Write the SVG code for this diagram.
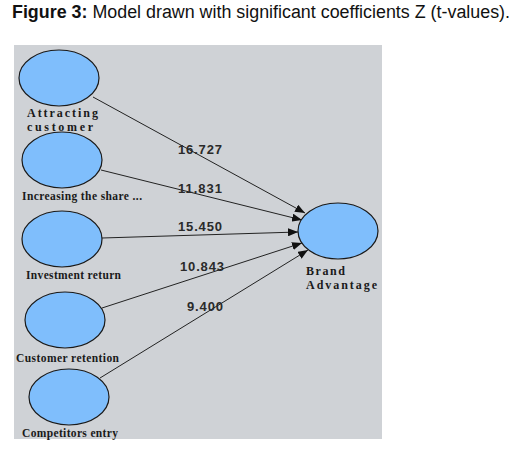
<svg xmlns="http://www.w3.org/2000/svg" width="523" height="449" viewBox="0 0 523 449">
<style>
.title{font-family:"Liberation Sans",Arial,sans-serif;font-size:18px;fill:#111}
.node ellipse{fill:#7fbefc;stroke:#1a1a1a;stroke-width:1.2}
.lbl{font-family:"Liberation Serif","Times New Roman",serif;font-weight:bold;font-size:12px;fill:#1a1a1a}
.sm{font-size:11.5px}
.edge{stroke:#222;stroke-width:1;fill:none;marker-end:url(#ah)}
.val{font-family:"Liberation Sans",Arial,sans-serif;font-size:13px;fill:#2a2a2a;font-weight:bold}
</style>
<defs>
<marker id="ah" markerWidth="10" markerHeight="8" refX="10" refY="4" orient="auto" markerUnits="userSpaceOnUse">
<path d="M0,0 L10,4 L0,8 Z" fill="#111"/>
</marker>
</defs>
<rect width="523" height="449" fill="#fff"/>
<text class="title" x="12" y="18" textLength="498" lengthAdjust="spacingAndGlyphs"><tspan font-weight="bold">Figure 3:</tspan> Model drawn with significant coefficients Z (t-values).</text>
<rect x="14" y="45" width="368" height="394" fill="#cfd2d6"/>
<g id="connectors">
<line class="edge" x1="93" y1="97" x2="305" y2="213"/>
<line class="edge" x1="101" y1="170" x2="302" y2="220"/>
<line class="edge" x1="102" y1="238" x2="298" y2="232"/>
<line class="edge" x1="102" y1="308" x2="302" y2="243"/>
<line class="edge" x1="100" y1="378" x2="308" y2="250"/>
<text class="val" x="178" y="154" textLength="44" lengthAdjust="spacing">16.727</text>
<text class="val" x="178" y="193" textLength="44" lengthAdjust="spacing">11.831</text>
<text class="val" x="178" y="231" textLength="44" lengthAdjust="spacing">15.450</text>
<text class="val" x="180" y="271" textLength="44" lengthAdjust="spacing">10.843</text>
<text class="val" x="187" y="311" textLength="36" lengthAdjust="spacing">9.400</text>
</g>
<g id="n1" class="node"><ellipse cx="59" cy="78" rx="40" ry="28"/><text class="lbl" x="27" y="117" textLength="71" lengthAdjust="spacing">Attracting</text><text class="lbl" x="27" y="131" textLength="66" lengthAdjust="spacing">customer</text></g>
<g id="n2" class="node"><ellipse cx="62" cy="160" rx="40" ry="28"/><text class="lbl sm" x="22" y="200" textLength="120" lengthAdjust="spacing">Increasing the share ...</text></g>
<g id="n3" class="node"><ellipse cx="62" cy="239" rx="40" ry="28"/><text class="lbl sm" x="26" y="279" textLength="95" lengthAdjust="spacing">Investment return</text></g>
<g id="n4" class="node"><ellipse cx="65" cy="320" rx="40" ry="28"/><text class="lbl sm" x="16" y="362" textLength="103" lengthAdjust="spacing">Customer retention</text></g>
<g id="n5" class="node"><ellipse cx="69" cy="397" rx="40" ry="28"/><text class="lbl sm" x="22" y="437" textLength="96" lengthAdjust="spacing">Competitors entry</text></g>
<g id="n6" class="node"><ellipse cx="338" cy="231" rx="40" ry="28"/><text class="lbl" x="306" y="275" textLength="39" lengthAdjust="spacing">Brand</text><text class="lbl" x="306" y="289" textLength="71" lengthAdjust="spacing">Advantage</text></g>
</svg>
